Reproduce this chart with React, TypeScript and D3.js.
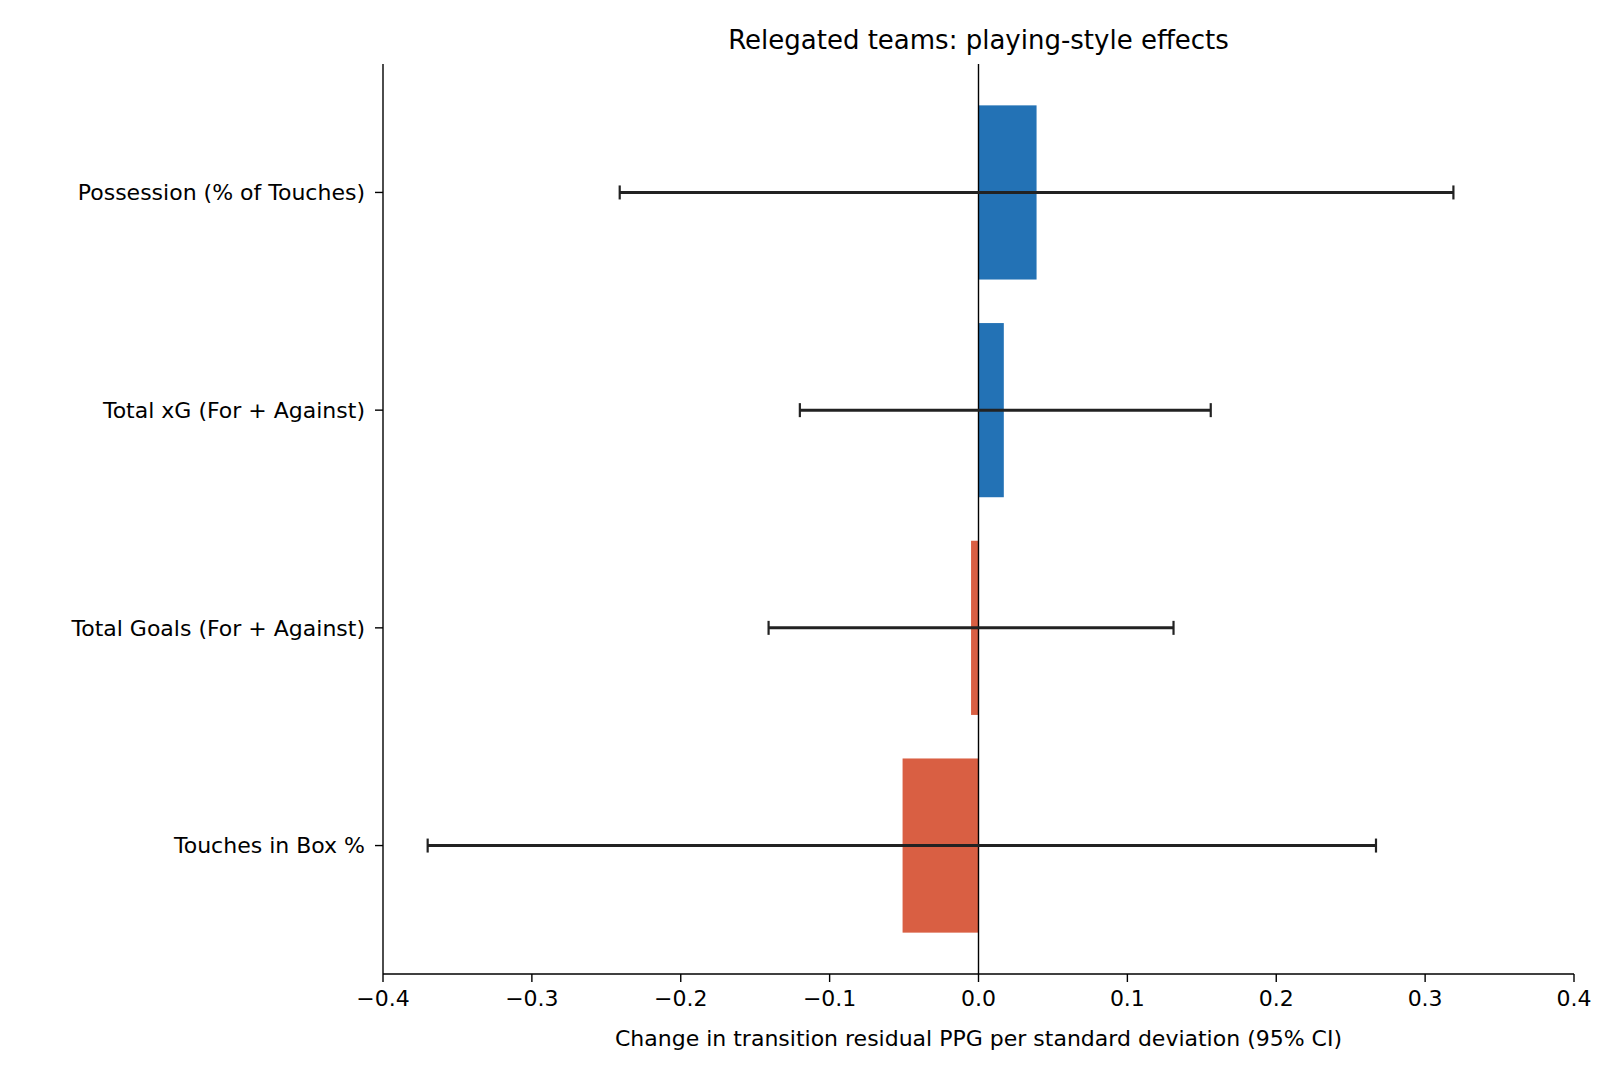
import * as d3 from "d3";
import React from "react";

const categories = ["Possession (% of Touches)", "Total xG (For + Against)", "Total Goals (For + Against)", "Touches in Box %"];
const effects = [0.039, 0.017, -0.005, -0.051];
const ciLow = [-0.241, -0.12, -0.141, -0.37];
const ciHigh = [0.319, 0.156, 0.131, 0.267];
const xTicks = [-0.4, -0.3, -0.2, -0.1, 0, 0.1, 0.2, 0.3, 0.4];

const W = 1620, H = 1080;
const left = 383, right = 1574, top = 64, bottom = 974;

export default function App() {
  const x = d3.scaleLinear().domain([-0.4, 0.4]).range([left, right]);
  const y = d3.scaleLinear().domain([-0.59, 3.59]).range([top, bottom]);
  const bw = (y(1) - y(0)) * 0.8;
  const fmt = (v: number) => (v < 0 ? "\u2212" : "") + Math.abs(v).toFixed(1);
  return (
    <svg width={W} height={H} style={{ position: "absolute", left: 0, top: 0, fontFamily: "'DejaVu Sans', sans-serif" }}>
      <rect width={W} height={H} fill="#fff" />
      <text x={(left + right) / 2} y={49} textAnchor="middle" fontSize={26}>Relegated teams: playing-style effects</text>
      {categories.map((c, i) => (
        <rect key={c} x={x(Math.min(0, effects[i]))} y={y(i) - bw / 2} width={Math.abs(x(effects[i]) - x(0))} height={bw}
          fill={effects[i] >= 0 ? "#2372b5" : "#d95f43"} />
      ))}
      <line x1={x(0)} x2={x(0)} y1={top} y2={bottom} stroke="#000" strokeWidth={1.4} />
      {categories.map((c, i) => (
        <g key={c + "e"} stroke="#222" strokeWidth={3}>
          <line x1={x(ciLow[i])} x2={x(ciHigh[i])} y1={y(i)} y2={y(i)} />
          <line x1={x(ciLow[i])} x2={x(ciLow[i])} y1={y(i) - 7} y2={y(i) + 7} strokeWidth={2.2} />
          <line x1={x(ciHigh[i])} x2={x(ciHigh[i])} y1={y(i) - 7} y2={y(i) + 7} strokeWidth={2.2} />
        </g>
      ))}
      <line x1={left} x2={left} y1={top} y2={bottom} stroke="#000" strokeWidth={1.4} />
      <line x1={left} x2={right} y1={bottom} y2={bottom} stroke="#000" strokeWidth={1.4} />
      {categories.map((c, i) => (
        <g key={c + "t"}>
          <line x1={left - 8} x2={left} y1={y(i)} y2={y(i)} stroke="#000" strokeWidth={1.4} />
          <text x={left - 18} y={y(i)} dy="0.35em" textAnchor="end" fontSize={22}>{c}</text>
        </g>
      ))}
      {xTicks.map(t => (
        <g key={t}>
          <line x1={x(t)} x2={x(t)} y1={bottom} y2={bottom + 8} stroke="#000" strokeWidth={1.4} />
          <text x={x(t)} y={bottom + 32} textAnchor="middle" fontSize={22}>{fmt(t)}</text>
        </g>
      ))}
      <text x={(left + right) / 2} y={1046} textAnchor="middle" fontSize={22}>Change in transition residual PPG per standard deviation (95% CI)</text>
    </svg>
  );
}
